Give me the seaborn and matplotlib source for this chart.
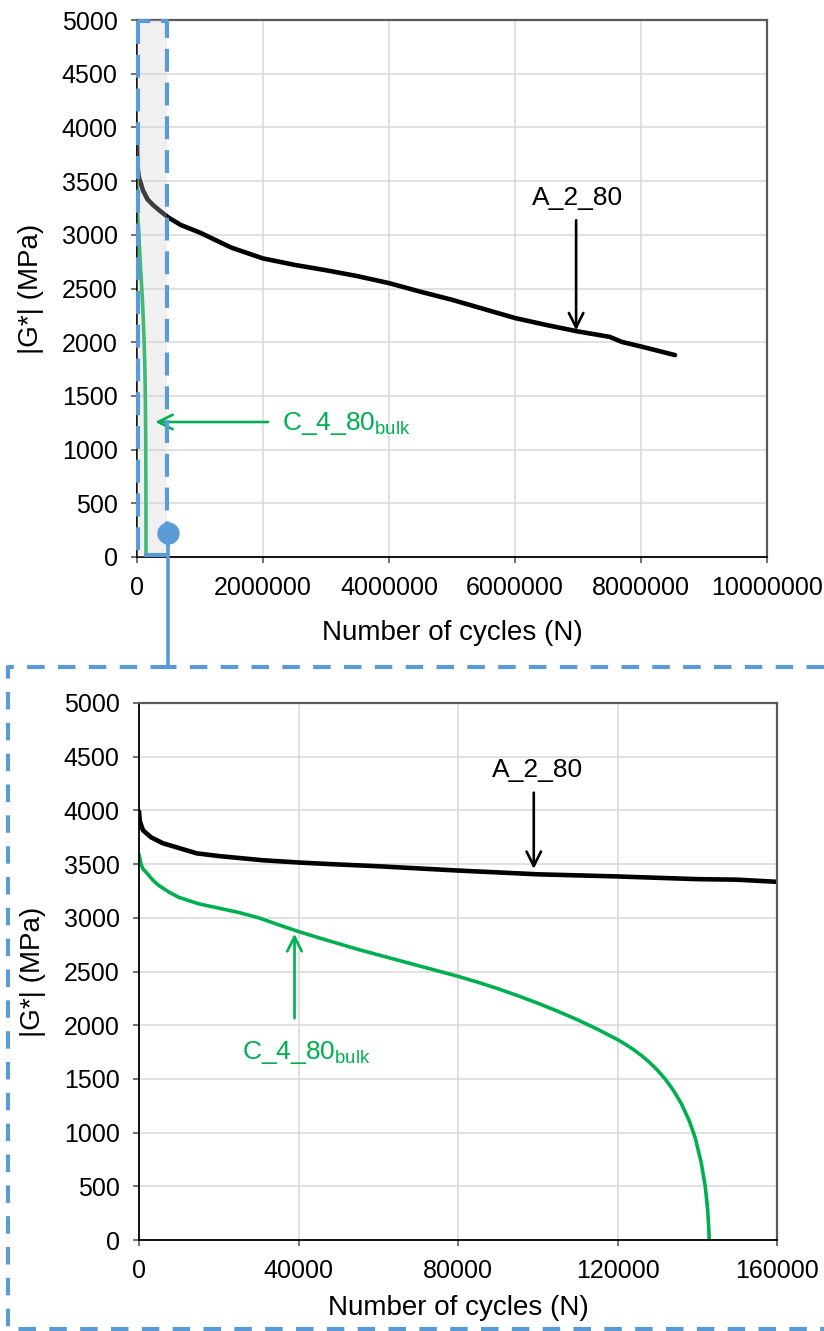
import numpy as np
import pandas as pd
import matplotlib
matplotlib.use("Agg")
import matplotlib.pyplot as plt
import seaborn as sns

# ---------------- data ----------------
A_cycles = [0, 200, 1000, 3000, 6000, 10000, 14500, 20000, 31000, 40000, 48000,
            60000, 80000, 100000, 120000, 140000, 150000, 160000, 250000, 350000,
            500000, 700000, 1000000, 1500000, 2000000, 2500000, 3000000, 3500000,
            4000000, 4500000, 5000000, 5500000, 6000000, 6500000, 7000000,
            7500000, 7700000, 8000000, 8540000]
A_modulus = [3990, 3900, 3815, 3750, 3694, 3650, 3600, 3575, 3536, 3515, 3500,
             3480, 3440, 3405, 3385, 3360, 3355, 3335, 3280, 3230,
             3160, 3090, 3020, 2880, 2780, 2720, 2670, 2615,
             2550, 2470, 2395, 2310, 2225, 2160, 2100,
             2050, 2002, 1960, 1880]

C_cycles = [0, 500, 1000, 2000, 3500, 5000, 7500, 10000, 15000, 20000, 25000,
            30000, 35000, 40000, 45000, 50000, 55000, 60000, 65000, 70000, 75000,
            80000, 85000, 90000, 95000, 100000, 105000, 110000, 115000, 120000,
            122000, 124000, 126000, 128000, 130000, 132000, 134000, 136000,
            138000, 139500, 141000, 142000, 142600, 142900, 143000]
C_modulus = [3590, 3500, 3455, 3415, 3350, 3300, 3240, 3190, 3130, 3090, 3050,
             3000, 2935, 2872, 2815, 2760, 2705, 2655, 2605, 2555, 2505,
             2455, 2400, 2340, 2275, 2205, 2130, 2050, 1962, 1866,
             1822, 1773, 1718, 1655, 1582, 1497, 1395, 1270,
             1110, 950, 720, 500, 290, 100, 0]

top_xticks = [0, 2000000, 4000000, 6000000, 8000000, 10000000]
bot_xticks = [0, 40000, 80000, 120000, 160000]
yticks = [0, 500, 1000, 1500, 2000, 2500, 3000, 3500, 4000, 4500, 5000]

label_A = "A_2_80"
label_C = r"C_4_80$_{\mathregular{bulk}}$"
xlabel = "Number of cycles (N)"
ylabel = "|G*| (MPa)"

dfA = pd.DataFrame({"N": A_cycles, "G": A_modulus})
dfC = pd.DataFrame({"N": C_cycles, "G": C_modulus})

# ---------------- style ----------------
sns.set_theme(style="white")
plt.rcParams["font.family"] = ["Liberation Sans", "DejaVu Sans"]
plt.rcParams["mathtext.fontset"] = "custom"
plt.rcParams["mathtext.rm"] = "Liberation Sans"

BLACK = "#000000"
GREEN = "#00b050"
BLUE = "#5b9bd5"
GRID = "#d9d9d9"
SPINE2 = "#595959"

W, H = 824, 1331
fig = plt.figure(figsize=(W / 100, H / 100), dpi=100)

def px_axes(l, t, r, b):
    return fig.add_axes([l / W, 1 - b / H, (r - l) / W, (b - t) / H])

ax1 = px_axes(137, 20, 767, 557)
ax2 = px_axes(139, 703, 777, 1240)

def style_axes(ax, xlim, xticks, xpad):
    ax.set_xlim(*xlim)
    ax.set_ylim(0, 5000)
    ax.set_xticks(xticks)
    ax.set_yticks(yticks)
    ax.set_xticklabels([str(v) for v in xticks])
    ax.set_yticklabels([str(v) for v in yticks])
    ax.grid(True, color=GRID, lw=1.1)
    ax.set_axisbelow(True)
    for s in ["left", "bottom"]:
        ax.spines[s].set_color(BLACK)
        ax.spines[s].set_linewidth(1.3)
    for s in ["top", "right"]:
        ax.spines[s].set_color(SPINE2)
        ax.spines[s].set_linewidth(1.6)
    ax.tick_params(axis="both", which="major", direction="out", length=4.5,
                   width=1.2, color=SPINE2, labelsize=18, labelcolor=BLACK,
                   pad=9.5, bottom=True, left=True)
    ax.set_xlabel(xlabel, fontsize=20, color=BLACK, labelpad=xpad)
    ax.set_ylabel(ylabel, fontsize=20, color=BLACK, labelpad=13)

for ax, xlim, xt, xpad in [(ax1, (0, 10000000), top_xticks, 14),
                           (ax2, (0, 160000), bot_xticks, 8)]:
    sns.lineplot(data=dfA, x="N", y="G", ax=ax, color=BLACK, lw=3.3,
                 sort=False, estimator=None, legend=False, zorder=2)
    sns.lineplot(data=dfC, x="N", y="G", ax=ax, color=GREEN, lw=2.6,
                 sort=False, estimator=None, legend=False, zorder=2)
    style_axes(ax, xlim, xt, xpad)

# grey zoom band in the top chart
ax1.axvspan(0, 476000, color="#d0d0d0", alpha=0.3, zorder=3, lw=0)

arrow_kw = dict(arrowstyle="->", lw=1.9, color=BLACK, mutation_scale=26,
                shrinkA=0, shrinkB=0)
garrow_kw = dict(arrow_kw, color=GREEN)

# top annotations
ax1.text(7.0e6, 3343, label_A, fontsize=19, ha="center", va="center", color=BLACK)
ax1.annotate("", xy=(6.97e6, 2110), xytext=(6.97e6, 3135), arrowprops=arrow_kw)
ax1.text(2.3e6, 1240, label_C, fontsize=19, ha="left", va="center", color=GREEN)
ax1.annotate("", xy=(0.29e6, 1257), xytext=(2.08e6, 1257), arrowprops=garrow_kw, zorder=4)

# bottom annotations
ax2.text(100000, 4374, label_A, fontsize=19, ha="center", va="center", color=BLACK)
ax2.annotate("", xy=(99000, 3455), xytext=(99000, 4165), arrowprops=arrow_kw)
ax2.text(42000, 1750, label_C, fontsize=19, ha="center", va="center", color=GREEN)
ax2.annotate("", xy=(39000, 2850), xytext=(39000, 2065), arrowprops=garrow_kw)

# ---------------- overlay decorations (figure pixels) ----------------
ov = fig.add_axes([0, 0, 1, 1], zorder=10)
ov.set_xlim(0, W)
ov.set_ylim(H, 0)
ov.axis("off")
ov.patch.set_alpha(0)

# dashed rectangle around zoom band
ov.plot([138.5, 138.5, 167, 167, 138.5], [21, 555, 555, 21, 21], color=BLUE,
        lw=3.0, ls=(0, (5.5, 2.6)), solid_capstyle="butt")
# connector
ov.plot([168, 168], [533, 667], color=BLUE, lw=2.6)
ov.plot([168], [533], marker="o", ms=15, color=BLUE, mec=BLUE)
# dashed frame around lower chart
ov.plot([824, 168], [667, 667], color=BLUE, lw=3.0, ls=(0, (4.2, 3.2)))
ov.plot([168, 8, 8, 824], [667, 667, 1329, 1329], color=BLUE, lw=3.0,
        ls=(0, (4.2, 3.2)))

fig.savefig("out.png", dpi=100)
